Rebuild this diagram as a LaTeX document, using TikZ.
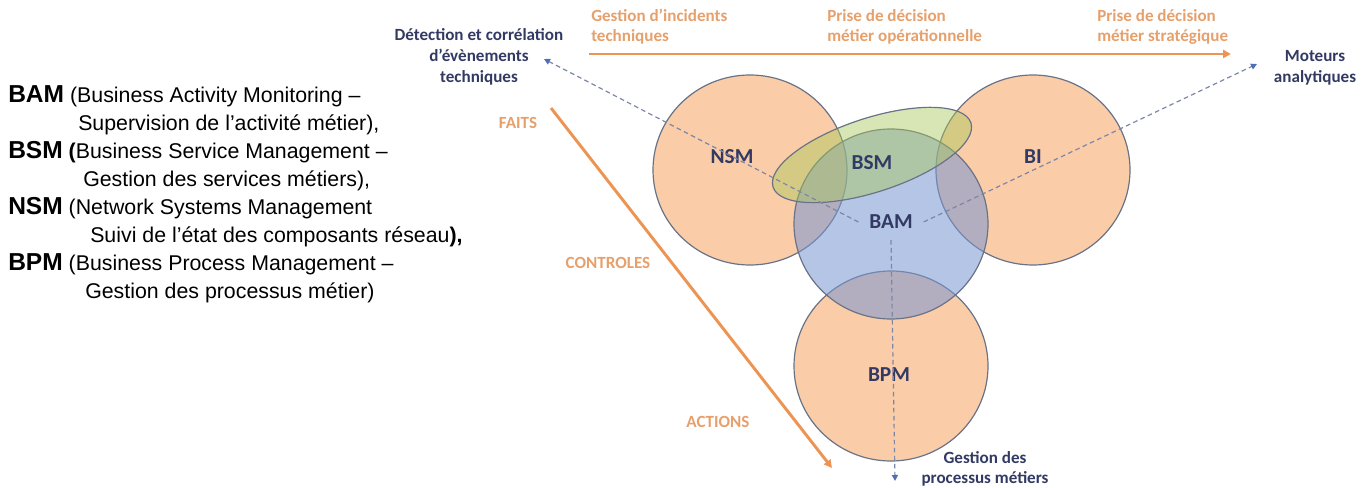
\documentclass[tikz,border=0pt]{standalone}
\usepackage{fontspec}
\setmainfont{Carlito}
\newfontfamily\legendfont{Liberation Sans}
\usetikzlibrary{arrows.meta}

\definecolor{peach}{RGB}{250,205,168}
\definecolor{rimgray}{RGB}{105,115,135}
\definecolor{bamblue}{RGB}{120,150,210}
\definecolor{bsmgreen}{RGB}{167,200,89}
\definecolor{navy}{RGB}{50,58,100}
\definecolor{orangeline}{RGB}{237,148,82}
\definecolor{orangetext}{RGB}{230,160,108}
\definecolor{dashgray}{RGB}{125,135,165}
\definecolor{tipblue}{RGB}{80,110,180}

\newcommand{\legabbr}[1]{{\fontsize{18.4}{22}\selectfont\bfseries #1}}

\tikzset{
  zone/.style={draw=rimgray, line width=0.9pt, fill=peach},
  bamzone/.style={draw=rimgray, line width=0.9pt, fill=bamblue, fill opacity=0.55},
  bsmzone/.style={draw=rimgray, line width=0.9pt, fill=bsmgreen, fill opacity=0.45},
  zonelabel/.style={text=navy, font=\fontsize{16}{19}\selectfont\bfseries, inner sep=0pt},
  darktext/.style={text=navy, font=\fontsize{12.8}{15.5}\selectfont\bfseries, align=center, inner sep=0pt},
  orangelabel/.style={text=orangetext, font=\fontsize{12.8}{15}\selectfont\bfseries, align=left, inner sep=0pt},
  legend/.style={font=\legendfont\fontsize{16}{19}\selectfont, anchor=base west, inner sep=0pt},
  dashlink/.style={draw=dashgray, line width=0.9pt, dash pattern=on 3.5pt off 2.5pt,
    -{Triangle[width=4.5pt,length=4.5pt,color=tipblue,fill=tipblue]}},
  orangearrow/.style={draw=orangeline, line width=2.2pt, -{Triangle[width=6pt,length=6pt]}}
}

\begin{document}
\begin{tikzpicture}[x=0.75pt, y=-0.75pt]
\useasboundingbox (0,0) rectangle (1367,488);

% ===== Legend =====
\node[legend] (lbam)  at (8,103)  {\legabbr{BAM} (Business Activity Monitoring –};
\node[legend] (lbam2) at (78,131) {Supervision de l’activité métier),};
\node[legend] (lbsm)  at (8,159)  {\legabbr{BSM} \textbf{(}Business Service Management –};
\node[legend] (lbsm2) at (83,187) {Gestion des services métiers),};
\node[legend] (lnsm)  at (8,215)  {\legabbr{NSM} (Network Systems Management};
\node[legend] (lnsm2) at (90,243) {Suivi de l’état des composants réseau\textbf{),}};
\node[legend] (lbpm)  at (8,271)  {\legabbr{BPM} (Business Process Management –};
\node[legend] (lbpm2) at (85,299) {Gestion des processus métier)};

% ===== Zones =====
\foreach \cx/\cy in {750/170, 1033/170, 891/366} {
    \draw[zone] (\cx,\cy) ellipse [x radius=97, y radius=95];
}
\draw[bamzone] (891,224) ellipse [x radius=97, y radius=95];
\draw[bsmzone, rotate around={18:(872,155)}] (872,155) ellipse [x radius=104, y radius=37];

% ===== Orange axes =====
\coordinate (axisL) at (589,54);
\coordinate (axisR) at (1231,54);
\coordinate (diagA) at (551,108);
\coordinate (diagB) at (832,468);
\draw[orangearrow] (axisL) -- (axisR);
\draw[orangearrow] (diagA) -- (diagB);

\node[orangelabel, anchor=west] (incid) at (591,27) {Gestion d’incidents\\techniques};
\node[orangelabel, anchor=west] (opera) at (827,27) {Prise de décision\\métier opérationnelle};
\node[orangelabel, anchor=west] (strat) at (1097,27) {Prise de décision\\métier stratégique};

\node[orangelabel] (faits)     at (518,123) {FAITS};
\node[orangelabel] (controles) at (608,263) {CONTROLES};
\node[orangelabel] (actions)   at (718,422) {ACTIONS};

% ===== Zone labels =====
\node[zonelabel] (nsm) at (732,157) {NSM};
\node[zonelabel] (bsm) at (872,163) {BSM};
\node[zonelabel] (bi)  at (1033,157) {BI};
\node[zonelabel] (bpm) at (889,375) {BPM};
\node[zonelabel, inner sep=8pt] (bam) at (891,222) {BAM};

% ===== Dashed links =====
\node[darktext] (detect) at (479,57) {Détection et corrélation\\d’évènements\\techniques};
\node[darktext] (moteur) at (1315,68) {Moteurs\\analytiques};
\node[darktext] (gestpm) at (985,469) {Gestion des\\processus métiers};

\coordinate (tipdet) at (544,59);
\coordinate (tipmot) at (1257,64);
\coordinate (tipgp)  at (895,481);
\draw[dashlink] (bam.west) -- (tipdet);
\draw[dashlink] (bam.east) -- (tipmot);
\draw[dashlink] (bam.south) -- (tipgp);

\end{tikzpicture}
\end{document}
